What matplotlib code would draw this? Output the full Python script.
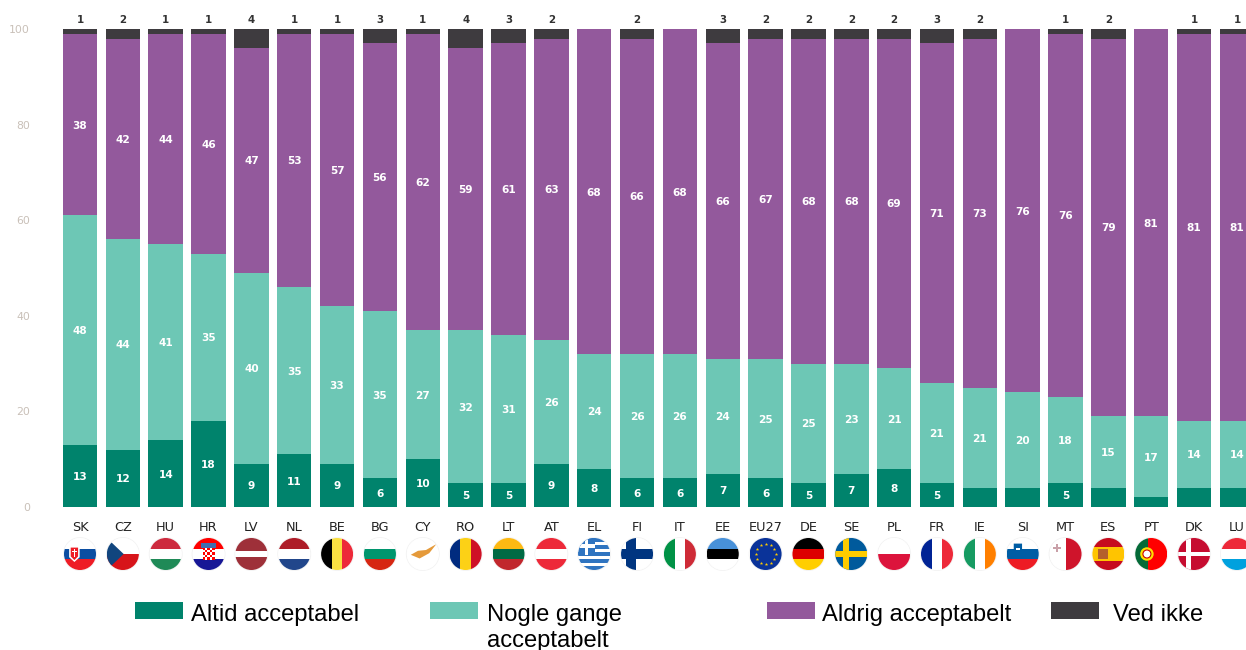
import numpy as np
import matplotlib
matplotlib.use("Agg")
import matplotlib.pyplot as plt
from matplotlib.patches import Circle, Rectangle, Polygon

# --- DATA ---
countries = ["SK", "CZ", "HU", "HR", "LV", "NL", "BE", "BG", "CY", "RO", "LT", "AT", "EL", "FI",
             "IT", "EE", "EU27", "DE", "SE", "PL", "FR", "IE", "SI", "MT", "ES", "PT", "DK", "LU"]
altid = [13, 12, 14, 18, 9, 11, 9, 6, 10, 5, 5, 9, 8, 6, 6, 7, 6, 5, 7, 8, 5, 4, 4, 5, 4, 2, 4, 4]
nogle = [48, 44, 41, 35, 40, 35, 33, 35, 27, 32, 31, 26, 24, 26, 26, 24, 25, 25, 23, 21, 21, 21, 20, 18, 15, 17, 14, 14]
aldrig = [38, 42, 44, 46, 47, 53, 57, 56, 62, 59, 61, 63, 68, 66, 68, 66, 67, 68, 68, 69, 71, 73, 76, 76, 79, 81, 81, 81]
ved_ikke = [1, 2, 1, 1, 4, 1, 1, 3, 1, 4, 3, 2, 0, 2, 0, 3, 2, 2, 2, 2, 3, 2, 0, 1, 2, 0, 1, 1]
yticks = [0, 20, 40, 60, 80, 100]
legend_labels = ["Altid acceptabel", "Nogle gange\nacceptabelt", "Aldrig acceptabelt", "Ved ikke"]

GREEN, MINT, PURPLE, DARK = "#00836c", "#6dc7b5", "#93599c", "#3e3b3f"
W, H = 1246, 650
STEP = 42.85
FIRST = 80.0

# flags: direction + stripes (colour, weight)
FLAGS = {
    "SK": ("h", [("#ffffff", 1), ("#0b4ea2", 1), ("#ee1c25", 1)]),
    "CZ": ("h", [("#ffffff", 1), ("#d7141a", 1)]),
    "HU": ("h", [("#cd2a3e", 1), ("#ffffff", 1), ("#1f8a57", 1)]),
    "HR": ("h", [("#ff0000", 1), ("#ffffff", 1), ("#171796", 1)]),
    "LV": ("h", [("#9e3039", 2), ("#ffffff", 1), ("#9e3039", 2)]),
    "NL": ("h", [("#ae1c28", 1), ("#ffffff", 1), ("#21468b", 1)]),
    "BE": ("v", [("#000000", 1), ("#fae042", 1), ("#ed2939", 1)]),
    "BG": ("h", [("#ffffff", 1), ("#00966e", 1), ("#d62612", 1)]),
    "CY": ("h", [("#ffffff", 1)]),
    "RO": ("v", [("#002b7f", 1), ("#fcd116", 1), ("#ce1126", 1)]),
    "LT": ("h", [("#fdb913", 1), ("#006a44", 1), ("#c1272d", 1)]),
    "AT": ("h", [("#ed2939", 1), ("#ffffff", 1), ("#ed2939", 1)]),
    "EL": ("h", [("#2f74c0", 1), ("#ffffff", 1)] * 4 + [("#2f74c0", 1)]),
    "FI": ("h", [("#ffffff", 1)]),
    "IT": ("v", [("#009246", 1), ("#ffffff", 1), ("#ce2b37", 1)]),
    "EE": ("h", [("#4891d9", 1), ("#000000", 1), ("#ffffff", 1)]),
    "EU27": ("h", [("#0a3399", 1)]),
    "DE": ("h", [("#000000", 1), ("#dd0000", 1), ("#ffce00", 1)]),
    "SE": ("h", [("#005a9c", 1)]),
    "PL": ("h", [("#ffffff", 1), ("#dc143c", 1)]),
    "FR": ("v", [("#002395", 1), ("#ffffff", 1), ("#ed2939", 1)]),
    "IE": ("v", [("#169b62", 1), ("#ffffff", 1), ("#ff7f00", 1)]),
    "SI": ("h", [("#ffffff", 1), ("#005da4", 1), ("#ed1c24", 1)]),
    "MT": ("v", [("#ffffff", 1), ("#cf142b", 1)]),
    "ES": ("h", [("#c60b1e", 2), ("#ffc400", 3), ("#c60b1e", 2)]),
    "PT": ("v", [("#046a38", 2), ("#ff0000", 3)]),
    "DK": ("h", [("#c60c30", 1)]),
    "LU": ("h", [("#ed2939", 1), ("#ffffff", 1), ("#00a1de", 1)]),
}
CROSSES = {"FI": ("#003580", 0.31), "SE": ("#fecc00", 0.2), "DK": ("#ffffff", 0.15)}


def draw_flag(ov, code, cx, cy, r):
    clip = Circle((cx, cy), r, transform=ov.transData)
    ov.add_patch(Circle((cx, cy), r + 0.5, fc="#ffffff", ec="#f2f2f2", lw=0.6, zorder=2))

    def rect(x0, y0, w, h, color, z=3):
        p = Rectangle((x0, y0), w, h, fc=color, ec="none", zorder=z)
        ov.add_patch(p)
        p.set_clip_path(clip)
        return p

    def poly(pts, color, z=4):
        p = Polygon(pts, closed=True, fc=color, ec="none", zorder=z)
        ov.add_patch(p)
        p.set_clip_path(clip)

    direction, stripes = FLAGS[code]
    total = sum(s[1] for s in stripes)
    pos = 0.0
    for color, weight in stripes:
        size = 2 * r * weight / total
        if direction == "h":
            rect(cx - r, cy - r + pos, 2 * r, size, color)
        else:
            rect(cx - r + pos, cy - r, size, 2 * r, color)
        pos += size

    # extras
    if code in CROSSES:
        color, t = CROSSES[code]
        vx = cx - r * 0.35
        rect(vx - r * t, cy - r, 2 * r * t, 2 * r, color, 4)
        rect(cx - r, cy - r * t, 2 * r, 2 * r * t, color, 4)
    if code == "CZ":
        poly([(cx - r, cy - r), (cx - r, cy + r), (cx + 0.05 * r, cy)], "#11457e")
    if code == "EL":
        rect(cx - r, cy - r, r * 1.05, r * 1.05, "#2f74c0", 4)
        rect(cx - r, cy - r * 0.6, r * 1.05, r * 0.22, "#ffffff", 5)
        rect(cx - r * 0.58, cy - r, r * 0.22, r * 1.05, "#ffffff", 5)
    if code == "EU27":
        for a in np.arange(0, 360, 30):
            ov.plot(cx + 0.62 * r * np.cos(np.radians(a)), cy + 0.62 * r * np.sin(np.radians(a)),
                    marker="*", ms=2.6, color="#ffcc00", mew=0, zorder=5)
    if code == "CY":
        poly([(cx - r * 0.75, cy + r * 0.05), (cx - r * 0.3, cy - r * 0.2), (cx + r * 0.2, cy - r * 0.25),
              (cx + r * 0.85, cy - r * 0.62), (cx + r * 0.4, cy - r * 0.05), (cx - r * 0.2, cy + r * 0.28)], "#e59a3a")
    if code == "SK":
        poly([(cx - r * 0.68, cy - r * 0.5), (cx - r * 0.02, cy - r * 0.5), (cx - r * 0.02, cy + r * 0.2),
              (cx - r * 0.35, cy + r * 0.5), (cx - r * 0.68, cy + r * 0.2)], "#ffffff")
        poly([(cx - r * 0.58, cy - r * 0.4), (cx - r * 0.12, cy - r * 0.4), (cx - r * 0.12, cy + r * 0.15),
              (cx - r * 0.35, cy + r * 0.38), (cx - r * 0.58, cy + r * 0.15)], "#ee1c25", 5)
        rect(cx - r * 0.39, cy - r * 0.34, r * 0.08, r * 0.55, "#ffffff", 6)
        rect(cx - r * 0.5, cy - r * 0.18, r * 0.3, r * 0.08, "#ffffff", 6)
    if code == "SI":
        poly([(cx - r * 0.56, cy - r * 0.65), (cx - r * 0.04, cy - r * 0.65), (cx - r * 0.04, cy - r * 0.2),
              (cx - r * 0.3, cy + r * 0.02), (cx - r * 0.56, cy - r * 0.2)], "#005da4")
        rect(cx - r * 0.4, cy - r * 0.4, r * 0.2, r * 0.15, "#ffffff", 5)
    if code == "HR":
        size = r * 0.15
        for row in range(5):
            for col in range(5):
                color = "#ff0000" if (row + col) % 2 == 0 else "#ffffff"
                rect(cx - 2.5 * size + col * size, cy - r * 0.4 + row * size, size, size, color, 5)
        rect(cx - r * 0.45, cy - r * 0.68, r * 0.9, r * 0.28, "#3e6fb0", 5)
    if code == "MT":
        rect(cx - r * 0.62, cy - r * 0.6, r * 0.12, r * 0.5, "#c9a0a8", 5)
        rect(cx - r * 0.81, cy - r * 0.41, r * 0.5, r * 0.12, "#c9a0a8", 5)
    if code == "ES":
        rect(cx - r * 0.62, cy - r * 0.32, r * 0.62, r * 0.66, "#b5602c", 5)
    if code == "PT":
        ov.add_patch(Circle((cx - r * 0.27, cy), r * 0.42, fc="#ffe000", ec="none", zorder=5))
        ov.add_patch(Circle((cx - r * 0.27, cy), r * 0.25, fc="#ffffff", ec="#cc0000", lw=0.8, zorder=6))


# --- FIGURE ---
fig = plt.figure(figsize=(W / 100, H / 100), dpi=100, facecolor="white")
left_px, top_px, bottom_px = 50, 29, 507
ax = fig.add_axes([left_px / W, 1 - bottom_px / H, (W - left_px) / W, (bottom_px - top_px) / H])

x = np.arange(len(countries))
bottom = np.zeros(len(countries))
for values, color in zip([altid, nogle, aldrig, ved_ikke], [GREEN, MINT, PURPLE, DARK]):
    values = np.array(values)
    ax.bar(x, values, bottom=bottom, width=0.805, color=color, edgecolor="none", linewidth=0)
    if color != DARK:
        for xi, v, b in zip(x, values, bottom):
            if v >= 5:
                ax.text(xi, b + v / 2, str(v), ha="center", va="center_baseline", color="white",
                        fontsize=7.6, fontweight="bold", clip_on=True)
    else:
        for xi, v in zip(x, values):
            if v > 0:
                ax.text(xi, 102.0, str(v), ha="center", va="center_baseline", color="#333333",
                        fontsize=7.4, fontweight="bold", clip_on=False)
    bottom = bottom + values

ax.set_xlim((left_px - FIRST) / STEP, (W - FIRST) / STEP)
ax.set_ylim(0, 100)
ax.set_yticks(yticks)
ax.set_xticks(x)
ax.set_xticklabels(countries)
ax.tick_params(axis="y", length=0, pad=14.5, labelsize=7.8, labelcolor="#c9c0b8")
ax.tick_params(axis="x", length=0, pad=10, labelsize=9.3, labelcolor="#222222")
for s in ax.spines.values():
    s.set_visible(False)
ax.patch.set_alpha(0)

# overlay in pixel coordinates for flags and legend
ov = fig.add_axes([0, 0, 1, 1])
ov.set_xlim(0, W)
ov.set_ylim(H, 0)
ov.axis("off")
ov.patch.set_alpha(0)

for i, code in enumerate(countries):
    draw_flag(ov, code, FIRST + STEP * i, 554, 16)

legend_colors = [GREEN, MINT, PURPLE, DARK]
patch_x = [135, 430, 767, 1051]
text_x = [191, 487, 822, 1113]
for lab, col, px, tx in zip(legend_labels, legend_colors, patch_x, text_x):
    ov.add_patch(Rectangle((px, 602), 48, 17, fc=col, ec="none"))
    ov.text(tx, 604, lab, family="Liberation Sans", fontsize=17.1, color="black", ha="left", va="top",
            linespacing=1.24)

fig.savefig("out.png", dpi=100, facecolor="white")
